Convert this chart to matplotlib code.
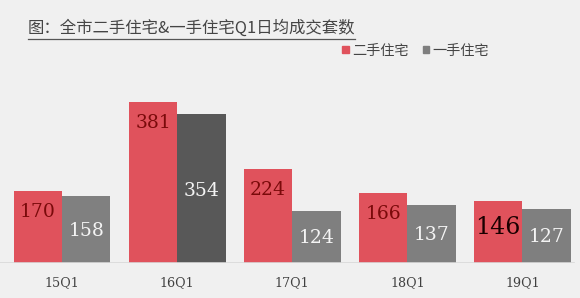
import matplotlib.pyplot as plt
import matplotlib.lines as mlines
import matplotlib.patches as mpatches
import numpy as np

plt.rcParams['font.family'] = ['Noto Sans CJK SC', 'DejaVu Sans']

# data
quarters = ['15Q1', '16Q1', '17Q1', '18Q1', '19Q1']
second_hand = [170, 381, 224, 166, 146]
first_hand = [158, 354, 124, 137, 127]
series_names = ['二手住宅', '一手住宅']
title = '图：全市二手住宅&一手住宅Q1日均成交套数'

bg = '#f0f0f0'
red = '#e0525c'
gray_colors = ['#808080', '#585858', '#7f7f7f', '#7f7f7f', '#7f7f7f']

fig = plt.figure(figsize=(5.8, 2.98), dpi=100, facecolor=bg)
ax = fig.add_axes([0.0, 0.117, 1.0, 0.55])
ax.set_facecolor(bg)

x = np.arange(len(quarters))
w = 0.42
b1 = ax.bar(x - w / 2, second_hand, w, color=red, edgecolor='none')
b2 = ax.bar(x + w / 2, first_hand, w, color=gray_colors, edgecolor='none')

ax.set_xlim(-0.54, 4.5)
ax.set_ylim(0, 388)
ax.axhline(0, color='#d8d8d8', lw=1.2, xmax=0.99)

# value labels
for i, v in enumerate(second_hand):
    big = quarters[i] == '19Q1'
    ax.text(x[i] - w / 2, v - 50 if not big else v * 0.57, str(v),
            ha='center', va='center', family='DejaVu Serif',
            fontsize=17 if big else 13.5,
            color='#1a0000' if big else '#7a0a0a')
for i, v in enumerate(first_hand):
    ax.text(x[i] + w / 2, v * 0.48, str(v), ha='center', va='center',
            family='DejaVu Serif', fontsize=13.5, color='#f4f4f4')

ax.set_xticks(x)
ax.set_xticklabels(quarters, family='DejaVu Serif', fontsize=9.2, color='#404040')
ax.tick_params(axis='x', length=0, pad=9)
ax.set_yticks([])
for s in ax.spines.values():
    s.set_visible(False)

# title with underline
t = fig.text(0.048, 0.905, title, fontsize=11.8, color='#454545', va='center', ha='left')
fig.canvas.draw()
bb = t.get_window_extent().transformed(fig.transFigure.inverted())
fig.add_artist(mlines.Line2D([bb.x0, bb.x1], [bb.y0 - 0.005, bb.y0 - 0.005],
                             transform=fig.transFigure, color='#555555', lw=0.9))

# legend
handles = [mpatches.Patch(color=red), mpatches.Patch(color='#7f7f7f')]
leg = fig.legend(handles, series_names, loc='center', bbox_to_anchor=(0.717, 0.83),
                 ncol=2, frameon=False, fontsize=10.2, handlelength=0.45, handleheight=0.45,
                 handletextpad=0.25, columnspacing=1.0)
for txt in leg.get_texts():
    txt.set_color('#454545')

fig.savefig('out.png', dpi=100, facecolor=bg)
